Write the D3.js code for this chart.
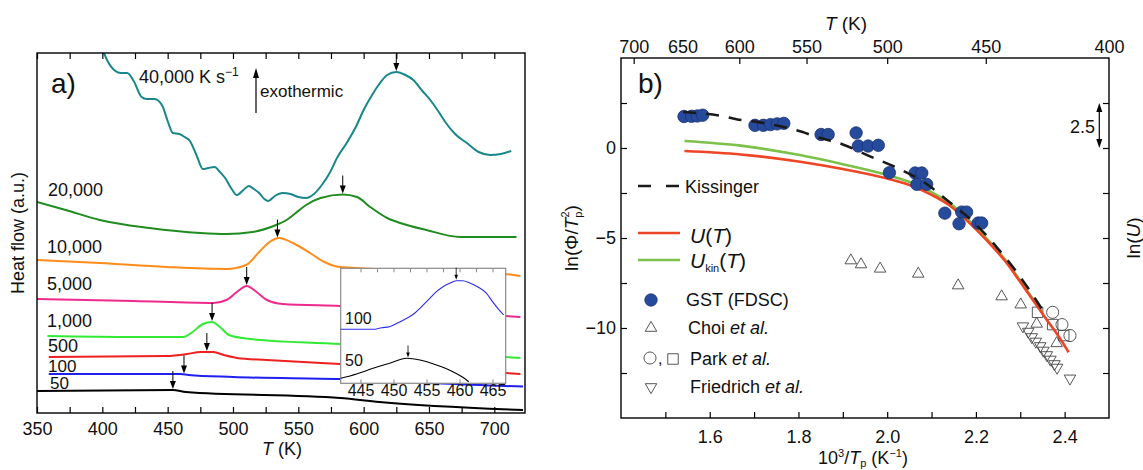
<!DOCTYPE html>
<meta charset="utf-8" />
<head>
  <script src="https://d3js.org/d3.v7.min.js"></script>
  <style>
    body { margin: 0; background: #fff; }
    svg text { font-family: "Liberation Sans", Arial, sans-serif; fill: #111; }
  </style>
</head>
<body>
  <div id="my_chart"></div>
<script>
  // ---------- panel a: FDSC traces, [T (K), heat flow (a.u.)]
  var trace40k = [[400,36.4],[404,35.2],[410,34.2],[414,34.0],[419,34.0],[424,33.2],[430,31.6],[434,31.4],[440,31.4],[446,30.7],[450,29.2],[454,28.0],[459,27.9],[463,27.6],[467,27.2],[472,25.8],[477,24.4],[481,24.5],[486,24.6],[490,24.1],[494,23.5],[499,22.4],[503,21.8],[508,22.3],[512,22.7],[516,22.4],[520,22.0],[524,21.4],[527,21.2],[532,21.7],[538,22.0],[544,21.9],[550,21.6],[556,21.5],[562,21.9],[568,22.8],[574,24.0],[580,25.6],[587,27.0],[594,28.6],[600,30.3],[606,31.7],[612,32.9],[618,33.8],[625,34.1],[632,33.8],[638,33.3],[645,32.2],[651,31.3],[657,30.2],[663,29.0],[670,27.9],[679,27.0],[688,26.1],[697,25.8],[705,25.9],[713,26.2]];
  var trace20k = [[350,21.1],[372,20.3],[398,19.3],[436,18.5],[475,18.0],[495,17.9],[515,18.1],[533,18.8],[541,19.3],[548,20.0],[556,20.8],[567,21.5],[584,21.85],[595,21.6],[605,20.6],[618,19.5],[628,19.0],[648,18.3],[674,17.6],[700,17.6],[717,17.6]];
  var trace10k = [[350,15.3],[398,15.0],[449,14.6],[495,14.4],[510,14.8],[520,16.1],[528,17.1],[535,17.5],[546,17.0],[559,16.0],[570,15.1],[582,14.6],[708,13.9],[720,13.7]];
  var trace5k = [[350,11.4],[424,11.2],[485,11.0],[495,11.3],[503,12.1],[510.5,12.7],[518,12.1],[526,11.3],[538,10.9],[582,10.7],[708,9.7],[720,9.6]];
  var trace1k = [[358,7.7],[424,7.6],[462,7.6],[468,8.0],[477,8.9],[484,9.1],[490,8.6],[497,7.8],[513,7.4],[582,6.9],[708,5.6],[720,5.5]];
  var trace500 = [[359,5.6],[449,5.7],[465,5.9],[475,6.1],[485,6.1],[493,5.8],[503,5.5],[526,5.3],[582,4.9],[708,4.0],[720,3.9]];
  var trace100 = [[359,3.9],[460,3.9],[466,3.8],[500,3.6],[582,3.4],[708,2.7],[722,2.65]];
  var trace50 = [[350,2.2],[454,2.3],[464,2.1],[582,1.5],[612,1.1],[722,0.3]];
  var traceNames = ["40,000", "20,000", "10,000", "5,000", "1,000", "500", "100", "50"];
  var peakTemps = [625, 584, 534, 510.5, 484, 480, 462.5, 454];
  var xTicksA = [350, 375, 400, 425, 450, 475, 500, 525, 550, 575, 600, 625, 650, 675, 700];

  // inset: slow scans, [T (K), heat flow (a.u.)]
  var inset100 = [[442.0,5.4],[444.4,5.4],[446.9,5.4],[448.2,5.56],[449.4,5.66],[450.7,6.06],[452.0,6.5],[453.2,7.0],[454.0,7.5],[455.5,8.5],[456.5,9.16],[457.5,9.66],[458.5,10.0],[459.5,10.26],[460.5,10.26],[461.5,10.06],[462.8,9.63],[464.1,9.0],[465.0,8.16],[465.8,7.5],[466.7,6.83]];
  var inset50 = [[442.0,0.5],[444.4,0.93],[446.9,1.5],[449.4,2.0],[452.0,2.5],[454.0,2.33],[456.5,1.83],[459.0,1.16],[460.5,0.6],[461.4,0.16]];
  var insetPeaks = [459.5, 452.2];
  var xTicksInset = [445, 450, 455, 460, 465];

  // ---------- panel b: Kissinger plot, [10^3/Tp, ln(Phi/Tp^2)]
  var gst = [[1.542,1.75],[1.559,1.76],[1.572,1.78],[1.584,1.82],[1.702,1.26],[1.721,1.26],[1.737,1.30],[1.752,1.34],[1.767,1.37],[1.851,0.75],[1.867,0.75],[1.930,0.84],[1.935,0.11],[1.957,0.11],[1.980,0.15],[2.005,-1.37],[2.063,-1.39],[2.078,-1.39],[2.067,-2.02],[2.089,-2.02],[2.130,-3.62],[2.168,-3.56],[2.179,-3.56],[2.162,-4.21],[2.205,-4.17],[2.213,-4.17]];
  var choi = [[1.918,-6.25],[1.941,-6.47],[1.984,-6.71],[2.070,-6.99],[2.160,-7.64],[2.258,-8.25],[2.301,-8.70],[2.337,-9.77],[2.382,-10.85]];
  var parkCircles = [[2.373,-9.13],[2.394,-9.81],[2.412,-10.42]];
  var parkSquares = [[2.339,-9.13],[2.373,-9.81],[2.398,-10.42]];
  var friedrich = [[2.306,-9.9],[2.318,-10.2],[2.326,-10.5],[2.335,-10.75],[2.345,-11.0],[2.352,-11.25],[2.36,-11.5],[2.368,-11.75],[2.377,-12.0],[2.383,-12.2],[2.412,-12.8]];
  var kissinger = [[1.540,2.0],[1.627,1.78],[1.66,1.6],[1.706,1.45],[1.796,0.98],[1.85,0.55],[1.90,0.2],[1.96,-0.45],[2.02,-1.08],[2.085,-1.93],[2.138,-2.96],[2.20,-4.25],[2.25,-5.6],[2.295,-7.0],[2.337,-8.5],[2.36,-9.4]];
  var uT = [[1.543,-0.17],[1.67,-0.36],[1.80,-0.75],[1.90,-1.17],[2.0,-1.7],[2.06,-2.15],[2.10,-2.6],[2.14,-3.18],[2.184,-4.13],[2.225,-5.15],[2.268,-6.35],[2.30,-7.45],[2.33,-8.5],[2.36,-9.55],[2.39,-10.6],[2.409,-11.35]];
  var uKinT = [[1.543,0.39],[1.67,0.13],[1.80,-0.38],[1.90,-0.9],[2.0,-1.5],[2.06,-1.98],[2.10,-2.45],[2.14,-3.05],[2.184,-4.02],[2.225,-5.05],[2.268,-6.27],[2.30,-7.38],[2.33,-8.45],[2.35,-9.15]];
  var xTicksB = [1.5, 1.6, 1.7, 1.8, 1.9, 2.0, 2.1, 2.2, 2.3, 2.4];
  var yTicksB = [-12.5, -10, -7.5, -5, -2.5, 0, 2.5];
  var topTempTicks = [700, 650, 600, 550, 500, 450, 400];
  var topTempTickMarks = [700, 600, 550, 500, 450];

  // ---------- styles
  var traceColors = ["#17878c", "#1f8c1f", "#ff8c1a", "#ee2a8c", "#33ea33", "#ee2020", "#2020ee", "#000"];

  var svg = d3.select("#my_chart").append("svg")
    .attr("width", 1143).attr("height", 470);

  var defs = svg.append("defs");
  defs.append("clipPath").attr("id", "clipA")
    .append("rect").attr("x", 37).attr("y", 53).attr("width", 488).attr("height", 360);

  function valueAt(data, t) {
    for (var i = 1; i < data.length; i++) {
      if (t <= data[i][0]) {
        var a = data[i - 1], b = data[i];
        return a[1] + (b[1] - a[1]) * (t - a[0]) / (b[0] - a[0]);
      }
    }
    return data[data.length - 1][1];
  }

  function downArrow(g, x, yTip, len, hw, hl, w) {
    g.append("line").attr("x1", x).attr("x2", x).attr("y1", yTip - len).attr("y2", yTip - hl + 1)
      .attr("stroke", "#000").attr("stroke-width", w);
    g.append("path").attr("d", "M" + (x - hw) + "," + (yTip - hl) + "L" + (x + hw) + "," + (yTip - hl) + "L" + x + "," + yTip + "Z")
      .attr("fill", "#000");
  }

  // ================= panel a
  var xA = d3.scaleLinear().domain([350, 723.5]).range([37, 525]);
  var yA = d3.scaleLinear().domain([0, 36]).range([413, 53]);
  var gA = svg.append("g");

  var lineA = d3.line().x(function (d) { return xA(d[0]); }).y(function (d) { return yA(d[1]); })
    .curve(d3.curveMonotoneX);

  var traces = [trace40k, trace20k, trace10k, trace5k, trace1k, trace500, trace100, trace50];
  var curvesA = gA.append("g").attr("clip-path", "url(#clipA)");
  traces.forEach(function (tr, i) {
    curvesA.append("path").datum(tr).attr("d", lineA)
      .attr("fill", "none").attr("stroke", traceColors[i]).attr("stroke-width", 2);
  });

  // peak arrows
  traces.forEach(function (tr, i) {
    var t = peakTemps[i];
    downArrow(gA, xA(t), yA(valueAt(tr, t)) - 1, 18, 3, 8, 1);
  });

  // curve labels
  var labelPos = [[139, 83], [48, 196], [47, 253], [47, 290], [47, 327], [48, 352], [48, 372], [50, 389]];
  traceNames.forEach(function (n, i) {
    var t = gA.append("text").attr("x", labelPos[i][0]).attr("y", labelPos[i][1])
      .style("font-size", i >= 6 ? "17px" : "18px").text(n);
    if (i === 0) {
      t.append("tspan").text(" K s");
      t.append("tspan").attr("dy", -7).style("font-size", "12px").text("\u22121");
    }
  });

  // exothermic arrow
  gA.append("line").attr("x1", 256).attr("x2", 256).attr("y1", 113).attr("y2", 76)
    .attr("stroke", "#000").attr("stroke-width", 1.2);
  gA.append("path").attr("d", "M253,78L259,78L256,68Z").attr("fill", "#000");
  gA.append("text").attr("x", 260).attr("y", 97).style("font-size", "17px").text("exothermic");

  gA.append("text").attr("x", 51).attr("y", 93).style("font-size", "28px").text("a)");

  // axes a
  var axBotA = gA.append("g").attr("transform", "translate(0,413)")
    .call(d3.axisBottom(xA).tickValues(xTicksA).tickSizeInner(-6).tickSizeOuter(0).tickPadding(9)
      .tickFormat(function (d) { return d % 50 === 0 ? d : ""; }));
  var axTopA = gA.append("g").attr("transform", "translate(0,53)")
    .call(d3.axisTop(xA).tickValues(xTicksA).tickSizeInner(-6).tickSizeOuter(0).tickFormat(""));
  [axBotA, axTopA].forEach(function (a) {
    a.select(".domain").remove();
    a.selectAll("line").attr("stroke", "#000").attr("stroke-width", 1.2);
    a.selectAll("text").style("font-size", "18px").style("font-family", "Liberation Sans, Arial, sans-serif").attr("fill", "#111");
  });
  gA.append("rect").attr("x", 37).attr("y", 53).attr("width", 488).attr("height", 360)
    .attr("fill", "none").attr("stroke", "#000").attr("stroke-width", 1.4);

  var tA = gA.append("text").attr("x", 282).attr("y", 455).attr("text-anchor", "middle").style("font-size", "18px");
  tA.append("tspan").style("font-style", "italic").text("T");
  tA.append("tspan").text(" (K)");
  gA.append("text").attr("transform", "translate(24,233) rotate(-90)").attr("text-anchor", "middle")
    .style("font-size", "18px").text("Heat flow (a.u.)");

  // inset
  var xI = d3.scaleLinear().domain([442, 467]).range([340.7, 505.7]);
  var yI = d3.scaleLinear().domain([0, 11.5]).range([383.3, 268.3]);
  var gI = svg.append("g");
  gI.append("rect").attr("x", 340.7).attr("y", 268.3).attr("width", 165).attr("height", 115)
    .attr("fill", "#fff").attr("stroke", "#8a8a8a").attr("stroke-width", 1.2);
  var lineI = d3.line().x(function (d) { return xI(d[0]); }).y(function (d) { return yI(d[1]); })
    .curve(d3.curveMonotoneX);
  gI.append("path").datum(inset100).attr("d", lineI).attr("fill", "none").attr("stroke", "#2b2bee").attr("stroke-width", 1.1);
  gI.append("path").datum(inset50).attr("d", lineI).attr("fill", "none").attr("stroke", "#000").attr("stroke-width", 1.1);
  [inset100, inset50].forEach(function (tr, i) {
    downArrow(gI, xI(insetPeaks[i]), yI(valueAt(tr, insetPeaks[i])) - 1, 12, 1.8, 5, 0.8);
  });
  var axTopI = gI.append("g").attr("transform", "translate(0,268.3)")
    .call(d3.axisTop(xI).tickValues(d3.range(445, 466, 2.5)).tickSizeInner(-4).tickSizeOuter(0).tickFormat(""));
  var axBotI = gI.append("g").attr("transform", "translate(0,383.3)")
    .call(d3.axisBottom(xI).tickValues(xTicksInset).tickSizeInner(-4).tickSizeOuter(0).tickPadding(1));
  [axTopI, axBotI].forEach(function (a) {
    a.select(".domain").remove();
    a.selectAll("line").attr("stroke", "#8a8a8a");
    a.selectAll("text").style("font-size", "16px").style("font-family", "Liberation Sans, Arial, sans-serif").attr("fill", "#111");
  });
  gI.append("text").attr("x", 345).attr("y", 324).style("font-size", "16px").text(traceNames[6]);
  gI.append("text").attr("x", 345).attr("y", 366).style("font-size", "16px").text(traceNames[7]);

  // ================= panel b
  var xB = d3.scaleLinear().domain([1.4, 2.5]).range([621, 1109]);
  var yB = d3.scaleLinear().domain([-15, 5]).range([418, 58]);
  var gB = svg.append("g");

  var lineB = d3.line().x(function (d) { return xB(d[0]); }).y(function (d) { return yB(d[1]); })
    .curve(d3.curveMonotoneX);

  var triUp = d3.symbol().type(d3.symbolTriangle2).size(95);
  var circ = d3.symbol().type(d3.symbolCircle).size(115);
  var sq = d3.symbol().type(d3.symbolSquare).size(110);

  function openMarks(data, sym, rot) {
    gB.selectAll(null).data(data).enter().append("path")
      .attr("d", sym)
      .attr("transform", function (d) { return "translate(" + xB(d[0]) + "," + yB(d[1]) + ") rotate(" + rot + ")"; })
      .attr("fill", "none").attr("stroke", "#444").attr("stroke-width", 0.9);
  }
  openMarks(choi, triUp, 0);
  openMarks(friedrich, triUp, 180);
  openMarks(parkSquares, sq, 0);
  openMarks(parkCircles, circ, 0);

  gB.append("path").datum(uKinT).attr("d", lineB).attr("fill", "none").attr("stroke", "#7dc04a").attr("stroke-width", 2.6);
  gB.append("path").datum(uT).attr("d", lineB).attr("fill", "none").attr("stroke", "#ee4526").attr("stroke-width", 2.6);

  gB.selectAll(null).data(gst).enter().append("circle")
    .attr("cx", function (d) { return xB(d[0]); }).attr("cy", function (d) { return yB(d[1]); })
    .attr("r", 6.2).attr("fill", "#264b9d").attr("stroke", "#1b3170").attr("stroke-width", 0.8);

  gB.append("path").datum(kissinger).attr("d", lineB).attr("fill", "none").attr("stroke", "#1a1a1a")
    .attr("stroke-width", 2.6).attr("stroke-dasharray", "13,10");

  // axes b
  var axBotB = gB.append("g").attr("transform", "translate(0,418)")
    .call(d3.axisBottom(xB).tickValues(xTicksB).tickSizeInner(-6).tickSizeOuter(0).tickPadding(12)
      .tickFormat(function (d) { return Math.round(d * 10) % 2 === 0 ? d.toFixed(1) : ""; }));
  var axTopB = gB.append("g").attr("transform", "translate(0,58)")
    .call(d3.axisTop(xB).tickValues(topTempTicks.map(function (t) { return 1000 / t; }))
      .tickSizeInner(-6).tickSizeOuter(0).tickPadding(5)
      .tickFormat(function (d) { return Math.round(1000 / d); }));
  axTopB.selectAll(".tick line").attr("visibility", function (d) {
    return topTempTickMarks.indexOf(Math.round(1000 / d)) >= 0 ? "visible" : "hidden";
  });
  var axLeftB = gB.append("g").attr("transform", "translate(621,0)")
    .call(d3.axisLeft(yB).tickValues(yTicksB).tickSizeInner(-6).tickSizeOuter(0).tickPadding(5)
      .tickFormat(function (d) { return d % 5 === 0 ? d3.format("d")(d) : ""; }));
  var axRightB = gB.append("g").attr("transform", "translate(1109,0)")
    .call(d3.axisRight(yB).tickValues(yTicksB).tickSizeInner(-6).tickSizeOuter(0).tickFormat(""));
  [axBotB, axTopB, axLeftB, axRightB].forEach(function (a) {
    a.select(".domain").remove();
    a.selectAll("line").attr("stroke", "#000").attr("stroke-width", 1.2);
    a.selectAll("text").style("font-size", "18px").style("font-family", "Liberation Sans, Arial, sans-serif").attr("fill", "#111");
  });
  gB.append("rect").attr("x", 621).attr("y", 58).attr("width", 488).attr("height", 360)
    .attr("fill", "none").attr("stroke", "#000").attr("stroke-width", 1.4);

  gB.append("text").attr("x", 638).attr("y", 93).style("font-size", "28px").text("b)");

  // 2.5 scale bar for ln(U)
  var barX = 1099.3, barTop = yB(2.5), barBot = yB(0);
  gB.append("line").attr("x1", barX).attr("x2", barX).attr("y1", barTop + 6).attr("y2", barBot - 6)
    .attr("stroke", "#000").attr("stroke-width", 1.2);
  gB.append("path").attr("d", "M" + (barX - 3) + "," + (barTop + 9) + "L" + (barX + 3) + "," + (barTop + 9) + "L" + barX + "," + barTop + "Z").attr("fill", "#000");
  gB.append("path").attr("d", "M" + (barX - 3) + "," + (barBot - 9) + "L" + (barX + 3) + "," + (barBot - 9) + "L" + barX + "," + barBot + "Z").attr("fill", "#000");
  gB.append("text").attr("x", 1095).attr("y", 133).attr("text-anchor", "end").style("font-size", "18px").text("2.5");

  // axis titles b
  var tTop = gB.append("text").attr("x", 846).attr("y", 30).attr("text-anchor", "middle").style("font-size", "19px");
  tTop.append("tspan").style("font-style", "italic").text("T");
  tTop.append("tspan").text(" (K)");

  var tBot = gB.append("text").attr("x", 863).attr("y", 464).attr("text-anchor", "middle").style("font-size", "18px");
  tBot.append("tspan").text("10");
  tBot.append("tspan").attr("dy", -7).style("font-size", "11px").text("3");
  tBot.append("tspan").attr("dy", 7).text("/");
  tBot.append("tspan").style("font-style", "italic").text("T");
  tBot.append("tspan").attr("dy", 3).style("font-size", "11px").text("p");
  tBot.append("tspan").attr("dy", -3).text(" (K");
  tBot.append("tspan").attr("dy", -7).style("font-size", "11px").text("\u22121");
  tBot.append("tspan").attr("dy", 7).text(")");

  var tLeft = gB.append("text").attr("transform", "translate(578,238) rotate(-90)").attr("text-anchor", "middle").style("font-size", "19px");
  tLeft.append("tspan").text("ln(\u03A6/");
  tLeft.append("tspan").style("font-style", "italic").text("T");
  tLeft.append("tspan").attr("dy", 4).style("font-size", "11px").text("p");
  tLeft.append("tspan").attr("dx", -6).attr("dy", -13).style("font-size", "11px").text("2");
  tLeft.append("tspan").attr("dy", 9).text(")");

  var tRight = gB.append("text").attr("transform", "translate(1140,238) rotate(-90)").attr("text-anchor", "middle").style("font-size", "19px");
  tRight.append("tspan").text("ln(");
  tRight.append("tspan").style("font-style", "italic").text("U");
  tRight.append("tspan").text(")");

  // legend b
  var lg = gB.append("g");
  lg.append("line").attr("x1", 638).attr("x2", 680).attr("y1", 186).attr("y2", 186)
    .attr("stroke", "#1a1a1a").attr("stroke-width", 2.6).attr("stroke-dasharray", "13,15");
  lg.append("text").attr("x", 685).attr("y", 193).style("font-size", "18px").text("Kissinger");

  lg.append("line").attr("x1", 638).attr("x2", 680).attr("y1", 233).attr("y2", 233)
    .attr("stroke", "#ee4526").attr("stroke-width", 2.6);
  var lu = lg.append("text").attr("x", 690).attr("y", 243).style("font-size", "21px");
  lu.append("tspan").style("font-style", "italic").text("U");
  lu.append("tspan").text("(");
  lu.append("tspan").style("font-style", "italic").text("T");
  lu.append("tspan").text(")");

  lg.append("line").attr("x1", 638).attr("x2", 680).attr("y1", 260).attr("y2", 260)
    .attr("stroke", "#7dc04a").attr("stroke-width", 2.6);
  var lk = lg.append("text").attr("x", 690).attr("y", 268).style("font-size", "21px");
  lk.append("tspan").style("font-style", "italic").text("U");
  lk.append("tspan").attr("dy", 4).style("font-size", "11px").text("kin");
  lk.append("tspan").attr("dy", -4).text("(");
  lk.append("tspan").style("font-style", "italic").text("T");
  lk.append("tspan").text(")");

  lg.append("circle").attr("cx", 651).attr("cy", 300).attr("r", 6.2)
    .attr("fill", "#264b9d").attr("stroke", "#1b3170").attr("stroke-width", 0.8);
  lg.append("text").attr("x", 686).attr("y", 306).style("font-size", "18px").text("GST (FDSC)");

  lg.append("path").attr("d", triUp).attr("transform", "translate(651,328)")
    .attr("fill", "none").attr("stroke", "#444").attr("stroke-width", 0.9);
  var lc = lg.append("text").attr("x", 688).attr("y", 334).style("font-size", "18px");
  lc.append("tspan").text("Choi ");
  lc.append("tspan").style("font-style", "italic").text("et al.");

  lg.append("path").attr("d", circ).attr("transform", "translate(650,358)")
    .attr("fill", "none").attr("stroke", "#444").attr("stroke-width", 0.9);
  lg.append("text").attr("x", 658).attr("y", 364).style("font-size", "16px").text(",");
  lg.append("path").attr("d", sq).attr("transform", "translate(673,359)")
    .attr("fill", "none").attr("stroke", "#444").attr("stroke-width", 0.9);
  var lp = lg.append("text").attr("x", 690).attr("y", 365).style("font-size", "18px");
  lp.append("tspan").text("Park ");
  lp.append("tspan").style("font-style", "italic").text("et al.");

  lg.append("path").attr("d", triUp).attr("transform", "translate(651,387) rotate(180)")
    .attr("fill", "none").attr("stroke", "#444").attr("stroke-width", 0.9);
  var lf = lg.append("text").attr("x", 690).attr("y", 393).style("font-size", "18px");
  lf.append("tspan").text("Friedrich ");
  lf.append("tspan").style("font-style", "italic").text("et al.");
</script>
</body>
